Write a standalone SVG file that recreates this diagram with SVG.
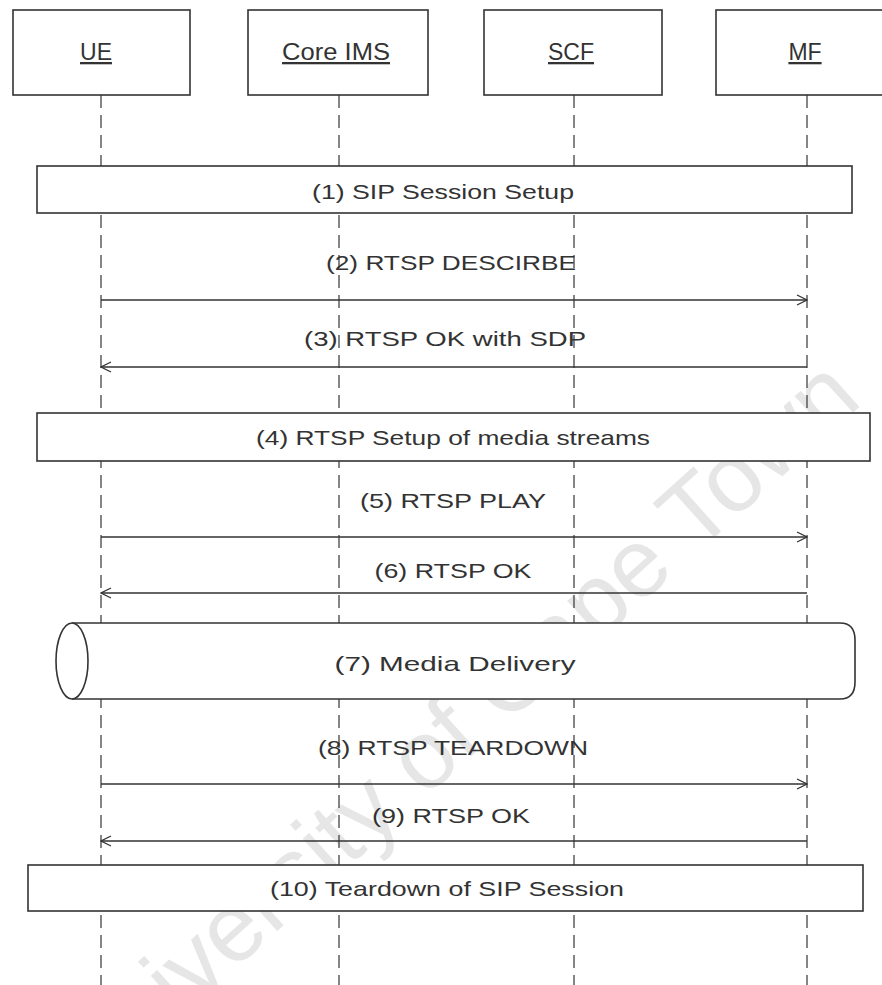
<svg xmlns="http://www.w3.org/2000/svg" width="882" height="985" viewBox="0 0 882 985">
<style>
.bx{fill:#fff;stroke:#333;stroke-width:1.6}
.ll{stroke:#444;stroke-width:1.3;stroke-dasharray:13 7;fill:none}
.msg{stroke:#333;stroke-width:1.5;fill:none}
.hd{font-family:"Liberation Sans",Arial,sans-serif;font-size:23px;fill:#333;text-anchor:middle;text-decoration:underline}
.lb{font-family:"Liberation Sans",Arial,sans-serif;font-size:21px;fill:#333;text-anchor:middle}
.wm{font-family:"Liberation Sans",Arial,sans-serif;font-size:97px;fill:#e6e6e6;text-anchor:middle}
</style>
<defs>
<marker id="ah" viewBox="0 0 12 12" refX="11" refY="6" markerWidth="12" markerHeight="12" markerUnits="userSpaceOnUse" orient="auto">
<path d="M1,1 L11,6 L1,11" fill="none" stroke="#333" stroke-width="1.3"/>
</marker>
</defs>
<rect width="882" height="985" fill="#fff"/>
<text class="wm" transform="translate(476,752) rotate(-42)">University of Cape Town</text>
<g id="lifelines">
<line class="ll" x1="101" y1="95" x2="101" y2="985"/>
<line class="ll" x1="339" y1="95" x2="339" y2="985"/>
<line class="ll" x1="574" y1="95" x2="574" y2="985"/>
<line class="ll" x1="807" y1="95" x2="807" y2="985"/>
</g>
<g id="UE"><rect class="bx" x="13" y="10" width="177" height="85"/><text class="hd" x="96" y="60">UE</text></g>
<g id="CoreIMS"><rect class="bx" x="248" y="10" width="180" height="85"/><text class="hd" x="336" y="60" textLength="108" lengthAdjust="spacingAndGlyphs">Core IMS</text></g>
<g id="SCF"><rect class="bx" x="484" y="10" width="178" height="85"/><text class="hd" x="571" y="60">SCF</text></g>
<g id="MF"><rect class="bx" x="716" y="10" width="182" height="85"/><text class="hd" x="805" y="60">MF</text></g>
<g id="step1"><rect class="bx" x="37" y="166" width="815" height="47"/><text class="lb" x="443" y="199" textLength="262" lengthAdjust="spacingAndGlyphs">(1) SIP Session Setup</text></g>
<g id="step4"><rect class="bx" x="37" y="413" width="833" height="48"/><text class="lb" x="453" y="445" textLength="394" lengthAdjust="spacingAndGlyphs">(4) RTSP Setup of media streams</text></g>
<g id="step7"><path class="bx" d="M72,623 L840,623 Q855,623 855,640 L855,682 Q855,699 840,699 L72,699"/><ellipse class="bx" cx="72" cy="661" rx="16" ry="38"/><text class="lb" x="455" y="671" textLength="241" lengthAdjust="spacingAndGlyphs">(7) Media Delivery</text></g>
<g id="step10"><rect class="bx" x="28" y="865" width="835" height="46"/><text class="lb" x="447" y="896" textLength="354" lengthAdjust="spacingAndGlyphs">(10) Teardown of SIP Session</text></g>
<g id="connectors">
<line class="msg" x1="101" y1="300" x2="807" y2="300" marker-end="url(#ah)"/>
<text class="lb" x="451" y="270" textLength="250" lengthAdjust="spacingAndGlyphs">(2) RTSP DESCIRBE</text>
<line class="msg" x1="807" y1="367" x2="101" y2="367" marker-end="url(#ah)"/>
<text class="lb" x="445" y="346" textLength="282" lengthAdjust="spacingAndGlyphs">(3) RTSP OK with SDP</text>
<line class="msg" x1="101" y1="537" x2="807" y2="537" marker-end="url(#ah)"/>
<text class="lb" x="453" y="508" textLength="186" lengthAdjust="spacingAndGlyphs">(5) RTSP PLAY</text>
<line class="msg" x1="807" y1="593" x2="101" y2="593" marker-end="url(#ah)"/>
<text class="lb" x="453" y="578" textLength="157" lengthAdjust="spacingAndGlyphs">(6) RTSP OK</text>
<line class="msg" x1="101" y1="784" x2="807" y2="784" marker-end="url(#ah)"/>
<text class="lb" x="453" y="755" textLength="270" lengthAdjust="spacingAndGlyphs">(8) RTSP TEARDOWN</text>
<line class="msg" x1="807" y1="841" x2="101" y2="841" marker-end="url(#ah)"/>
<text class="lb" x="451" y="823" textLength="158" lengthAdjust="spacingAndGlyphs">(9) RTSP OK</text>
</g>
</svg>
